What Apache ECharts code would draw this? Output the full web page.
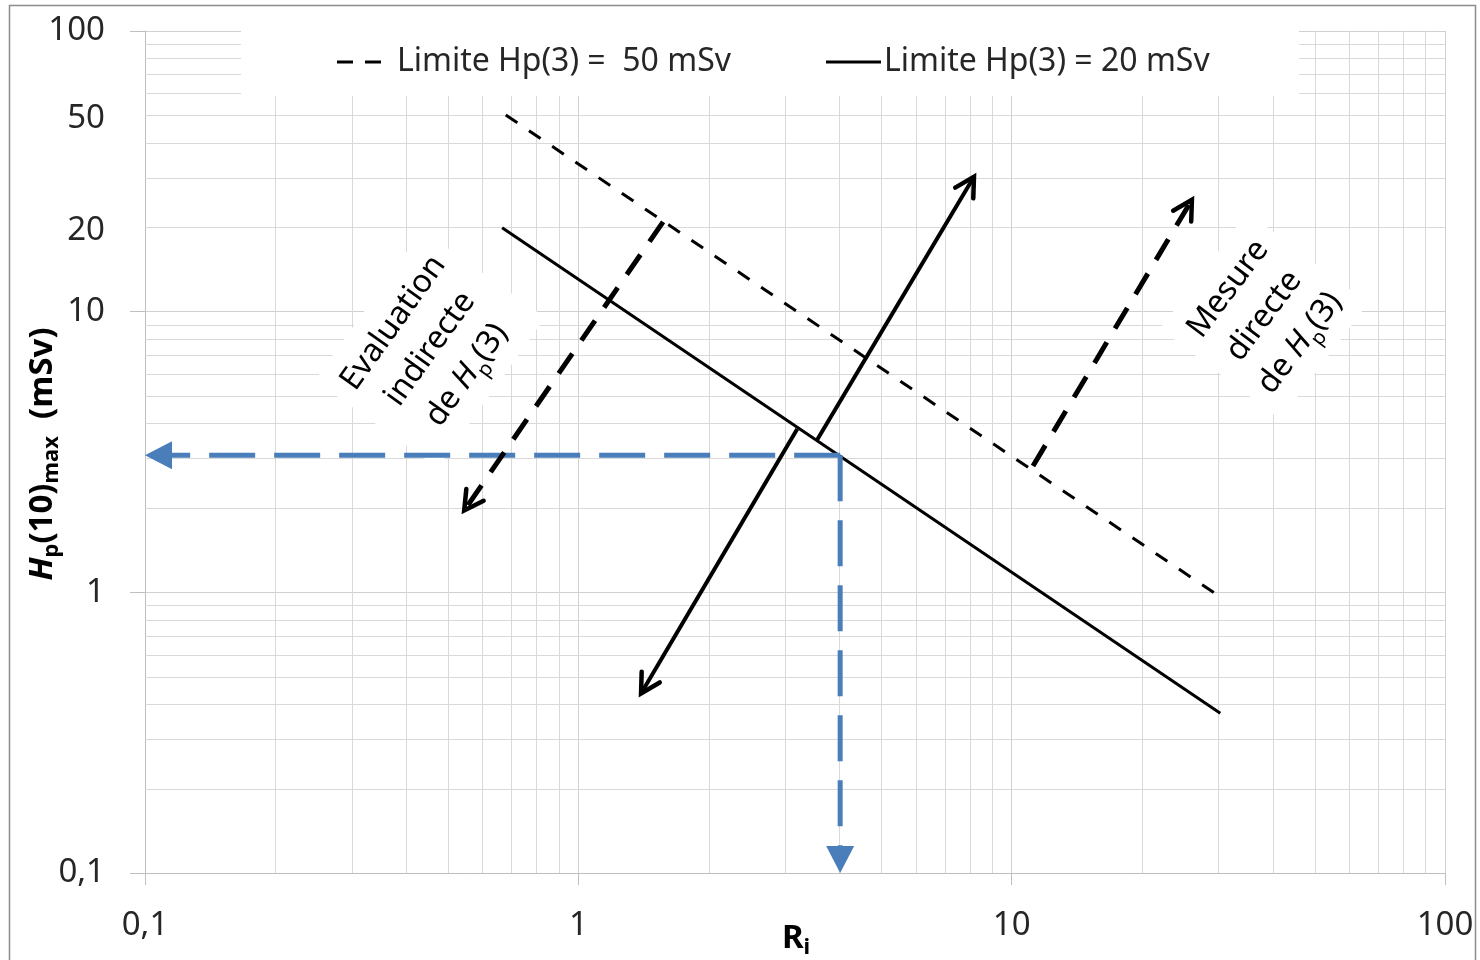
<!DOCTYPE html>
<html>
<head>
<meta charset="utf-8">
<script src="https://cdn.jsdelivr.net/npm/echarts@6/dist/echarts.min.js"></script>
<style>
html,body{margin:0;padding:0;background:#fff;}
#c{width:1480px;height:960px;}
</style>
</head>
<body>
<div id="c"></div>
<script>
// ---------- data ----------
const xMajorTicks = [0.1, 1, 10, 100];
const yMajorTicks = [0.1, 1, 10, 100];
const yExtraLabels = [50, 20];
const xMinorGrid = [0.2,0.3,0.4,0.5,0.6,0.7,0.8,0.9, 2,3,4,5,6,7,8,9, 20,30,40,50,60,70,80,90];
const yMinorGrid = [0.2,0.3,0.4,0.5,0.6,0.7,0.8,0.9, 2,3,4,5,6,7,8,9, 20,30,40,50,60,70,80,90];

const limit50 = [[0.68, 50.2], [29.5, 0.99]];     // Limite Hp(3) = 50 mSv
const limit20 = [[0.667, 19.9], [30.3, 0.371]];   // Limite Hp(3) = 20 mSv

const blueArrows = [
  [[4.02, 3.08], [0.1, 3.08]],
  [[4.02, 3.08], [4.02, 0.1]]
];
const solidArrows = [
  [[3.20, 3.82], [1.388, 0.430]],
  [[3.555, 3.49], [8.23, 30.7]]
];
const dashedArrows = [
  [[1.569, 20.9], [0.542, 1.93]],
  [[11.2, 2.82], [26.2, 25.4]]
];

const legendLabels = ['Limite Hp(3) =  50 mSv', 'Limite Hp(3) = 20 mSv'];
// ---------------------------

const FONT = 'Noto Sans';
const TXT = '#262626';
const fmt = v => String(+Number(v).toPrecision(6)).replace('.', ',');

function gridSeries(values, vertical) {
  return {
    type: 'custom', silent: true, z: 1,
    data: values.map(v => vertical ? [v, 1] : [1, v]),
    encode: {x: 0, y: 1},
    renderItem(params, api) {
      const cs = params.coordSys;
      const p = api.coord([api.value(0), api.value(1)]);
      if (vertical) {
        const x = Math.round(p[0]) + 0.5;
        return {type: 'line', shape: {x1: x, y1: cs.y, x2: x, y2: cs.y + cs.height},
                style: {stroke: '#d9d9d9', lineWidth: 1}};
      }
      const y = Math.round(p[1]) + 0.5;
      return {type: 'line', shape: {x1: cs.x, y1: y, x2: cs.x + cs.width, y2: y},
              style: {stroke: '#d9d9d9', lineWidth: 1}};
    }
  };
}

function arrowSeries(arrows, opt) {
  return {
    type: 'custom', silent: true, z: opt.z || 6,
    data: arrows.map(a => [a[0][0], a[0][1], a[1][0], a[1][1]]),
    encode: {x: [0, 2], y: [1, 3]},
    renderItem(params, api) {
      const p1 = api.coord([api.value(0), api.value(1)]);
      const p2 = api.coord([api.value(2), api.value(3)]);
      const dx = p2[0] - p1[0], dy = p2[1] - p1[1];
      const len = Math.hypot(dx, dy);
      const ux = dx / len, uy = dy / len;
      const L = opt.headLen, W = opt.headWidth / 2;
      const bx = p2[0] - ux * L, by = p2[1] - uy * L;
      const children = [];
      if (opt.filled) {
        children.push({type: 'line',
          shape: {x1: p1[0], y1: p1[1], x2: bx + ux * 2, y2: by + uy * 2},
          style: {stroke: opt.color, lineWidth: opt.width, lineDash: opt.dash || null, lineCap: 'butt'}});
        children.push({type: 'polygon',
          shape: {points: [[p2[0], p2[1]], [bx - uy * W, by + ux * W], [bx + uy * W, by - ux * W]]},
          style: {fill: opt.color}});
      } else {
        const tx = p2[0] - ux * 2, ty = p2[1] - uy * 2;
        children.push({type: 'line',
          shape: {x1: p1[0], y1: p1[1], x2: tx, y2: ty},
          style: {stroke: opt.color, lineWidth: opt.width, lineDash: opt.dash || null, lineCap: 'butt'}});
        children.push({type: 'polyline',
          shape: {points: [[bx - uy * W, by + ux * W], [tx, ty], [bx + uy * W, by - ux * W]]},
          style: {stroke: opt.color, lineWidth: opt.headLineWidth || opt.width, fill: null, lineJoin: 'miter', lineCap: 'round'}});
      }
      return {type: 'group', children};
    }
  };
}

const chart = echarts.init(document.getElementById('c'), null, {renderer: 'canvas'});

const annRich = {
  i: {fontFamily: FONT, fontSize: 32, fontStyle: 'italic', lineHeight: 45, fill: '#000'},
  s: {fontFamily: FONT, fontSize: 20, lineHeight: 26, verticalAlign: 'bottom', fill: '#000'}
};

const option = {
  backgroundColor: '#fff',
  animation: false,
  grid: {left: 145, top: 31, width: 1300, height: 842, containLabel: false},
  xAxis: {
    type: 'log', logBase: 10, min: xMajorTicks[0], max: xMajorTicks[xMajorTicks.length - 1],
    axisLine: {show: true, onZero: false, lineStyle: {color: '#bfbfbf', width: 1}},
    axisTick: {show: true, length: 12, lineStyle: {color: '#bfbfbf'}},
    axisLabel: {formatter: fmt, fontFamily: FONT, fontSize: 33, color: TXT, margin: 36},
    splitLine: {show: true, lineStyle: {color: '#d0d0d0', width: 1}},
    minorTick: {show: false}, minorSplitLine: {show: false}
  },
  yAxis: {
    type: 'log', logBase: 10, min: yMajorTicks[0], max: yMajorTicks[yMajorTicks.length - 1],
    axisLine: {show: true, onZero: false, lineStyle: {color: '#bfbfbf', width: 1}},
    axisTick: {show: true, length: 15, lineStyle: {color: '#bfbfbf'}},
    axisLabel: {formatter: fmt, fontFamily: FONT, fontSize: 33, color: TXT, margin: 40},
    splitLine: {show: true, lineStyle: {color: '#d0d0d0', width: 1}},
    minorTick: {show: false}, minorSplitLine: {show: false}
  },
  series: [
    gridSeries(xMinorGrid, true),
    gridSeries(yMinorGrid, false),
    {
      type: 'custom', silent: true, z: 2,
      data: yExtraLabels.map(v => [xMajorTicks[0], v]),
      encode: {x: 0, y: 1},
      renderItem(params, api) {
        const p = api.coord([api.value(0), api.value(1)]);
        return {type: 'text', x: p[0] - 40, y: p[1] + 3,
          style: {text: fmt(api.value(1)), align: 'right', verticalAlign: 'middle',
                  fontFamily: FONT, fontSize: 33, fill: TXT}};
      }
    },
    {
      name: legendLabels[0], type: 'line', data: limit50, symbol: 'none', showSymbol: false,
      silent: true, z: 5, clip: false,
      lineStyle: {color: '#000', width: 3, type: [14, 14]}
    },
    {
      name: legendLabels[1], type: 'line', data: limit20, symbol: 'none', showSymbol: false,
      silent: true, z: 5, clip: false,
      lineStyle: {color: '#000', width: 3, type: 'solid'}
    },
    arrowSeries(blueArrows, {color: '#4a7ebb', width: 5, dash: [46, 19], filled: true, headLen: 27, headWidth: 28, z: 6}),
    arrowSeries(solidArrows, {color: '#000', width: 4, filled: false, headLen: 21, headWidth: 21, headLineWidth: 4.5, z: 7}),
    arrowSeries(dashedArrows, {color: '#000', width: 5, dash: [24, 16], filled: false, headLen: 21, headWidth: 21, headLineWidth: 4.5, z: 7})
  ],
  graphic: [
    // legend background (hides grid)
    {type: 'rect', z: 3, silent: true, shape: {x: 241, y: 24, width: 1058, height: 72}, style: {fill: '#fff'}},
    {type: 'line', z: 4, silent: true, shape: {x1: 337, y1: 62, x2: 381, y2: 62},
     style: {stroke: '#000', lineWidth: 3, lineDash: [16, 12]}},
    {type: 'text', z: 4, silent: true, x: 397, y: 62,
     style: {text: legendLabels[0], fontFamily: FONT, fontSize: 32, fill: TXT, align: 'left', verticalAlign: 'middle'}},
    {type: 'line', z: 4, silent: true, shape: {x1: 826, y1: 62, x2: 881, y2: 62},
     style: {stroke: '#000', lineWidth: 3}},
    {type: 'text', z: 4, silent: true, x: 884, y: 62,
     style: {text: legendLabels[1], fontFamily: FONT, fontSize: 32, fill: TXT, align: 'left', verticalAlign: 'middle'}},
    // annotations
    {type: 'text', z: 3, silent: true, x: 430, y: 349, rotation: 54.5 * Math.PI / 180,
     style: {text: 'Evaluation\nindirecte\nde {i|H}{s|p}(3)', rich: annRich,
             fontFamily: FONT, fontSize: 32, lineHeight: 45, fill: '#000',
             align: 'center', verticalAlign: 'middle', backgroundColor: '#fff', padding: [8, 14]}},
    {type: 'text', z: 3, silent: true, x: 1264, y: 316, rotation: 53 * Math.PI / 180,
     style: {text: 'Mesure\ndirecte\nde {i|H}{s|p}(3)', rich: annRich,
             fontFamily: FONT, fontSize: 32, lineHeight: 45, fill: '#000',
             align: 'center', verticalAlign: 'middle', backgroundColor: '#fff', padding: [8, 14]}},
    // axis titles
    {type: 'text', z: 4, silent: true, x: 43, y: 454, rotation: Math.PI / 2,
     style: {text: '{h|H}{s|p}{b|(10)}{s|max}{b|  (mSv)}', align: 'center', verticalAlign: 'middle',
             rich: {
               h: {fontFamily: FONT, fontSize: 33, fontWeight: 'bold', fontStyle: 'italic', lineHeight: 40, fill: '#000'},
               b: {fontFamily: FONT, fontSize: 33, fontWeight: 'bold', lineHeight: 40, fill: '#000'},
               s: {fontFamily: FONT, fontSize: 22, fontWeight: 'bold', lineHeight: 26, verticalAlign: 'bottom', fill: '#000'}
             }}},
    {type: 'text', z: 4, silent: true, x: 796, y: 939,
     style: {text: '{b|R}{s|i}', align: 'center', verticalAlign: 'middle',
             rich: {
               b: {fontFamily: FONT, fontSize: 33, fontWeight: 'bold', lineHeight: 40, fill: '#000'},
               s: {fontFamily: FONT, fontSize: 22, fontWeight: 'bold', lineHeight: 26, verticalAlign: 'bottom', fill: '#000'}
             }}},
    // outer frame
    {type: 'rect', z: 20, silent: true, shape: {x: 9.5, y: 5.5, width: 1466, height: 1000},
     style: {fill: null, stroke: '#8c8c8c', lineWidth: 1.5}}
  ]
};
chart.setOption(option);
</script>
</body>
</html>
